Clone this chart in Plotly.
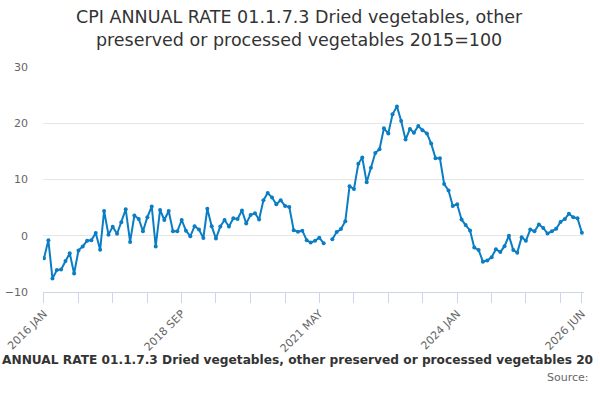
import pandas as pd
import plotly.graph_objects as go

# monthly annual rate, 2016 JAN .. 2026 JUN (2021 JUL missing)
months = pd.date_range("2016-01-01", periods=126, freq="MS")
rate = [
    -4.0, -0.8, -7.6, -6.1, -6.0, -4.5, -3.1, -6.7, -2.6, -1.9, -0.9, -0.8,
    0.5, -2.5, 4.4, 0.2, 1.6, 0.35, 2.4, 4.7, -1.1, 3.6, 3.0, 0.8,
    3.3, 5.2, -1.9, 4.6, 2.8, 4.4, 0.8, 0.8, 2.8, 0.9, -0.1, 1.7,
    1.1, -0.4, 4.8, 1.7, -0.5, 1.65, 2.8, 1.65, 3.1, 3.0, 4.5, 2.2,
    3.7, 4.0, 2.9, 6.3, 7.6, 6.8, 5.6, 6.3, 5.3, 5.1, 1.0, 0.7,
    0.9, -0.8, -1.2, -0.9, -0.35, -1.35, None, -0.6, 0.65, 1.2, 2.6, 8.8,
    8.3, 12.8, 13.9, 9.5, 12.1, 14.7, 15.4, 19.1, 18.2, 21.6, 23.0, 20.4,
    17.1, 19.0, 18.3, 19.5, 18.75, 18.2, 16.4, 13.8, 13.8, 9.2, 8.05, 5.3,
    5.6, 2.9, 1.9, 0.95, -2.1, -2.55, -4.6, -4.4, -3.8, -2.4, -2.9, -1.85,
    0.0, -2.55, -3.0, -0.25, -0.9, 1.1, 0.8, 2.0, 1.4, 0.4, 0.8, 1.25,
    2.45, 3.0, 3.9, 3.3, 3.1, 0.55,
]
tick_dates = ["2016-01-01", "2018-09-01", "2021-05-01", "2024-01-01", "2026-06-01"]
tick_labels = ["2016 JAN", "2018 SEP", "2021 MAY", "2024 JAN", "2026 JUN"]
y_ticks = [-10, 0, 10, 20, 30]

title = "CPI ANNUAL RATE 01.1.7.3 Dried vegetables, other<br>preserved or processed vegetables 2015=100"
legend_text = "ANNUAL RATE 01.1.7.3 Dried vegetables, other preserved or processed vegetables 20"

# minor ticks every 8 months, labelled ones every 32 plus the last month
minor = [months[i] for i in range(0, 126, 8)] + [months[-1]]
tickvals = []
ticktext = []
for d in minor:
    tickvals.append(d)
    s = d.strftime("%Y-%m-%d")
    ticktext.append(tick_labels[tick_dates.index(s)] if s in tick_dates else "")

fig = go.Figure()
fig.add_trace(
    go.Scatter(
        x=months,
        y=rate,
        mode="lines+markers",
        line=dict(color="#0a7dc4", width=2),
        marker=dict(color="#0a7dc4", size=4),
        connectgaps=False,
        showlegend=False,
    ))

fig.update_layout(
    width=600,
    height=400,
    paper_bgcolor="white",
    plot_bgcolor="white",
    font=dict(family="DejaVu Sans", color="#666666"),
    margin=dict(l=43, r=16, t=67, b=108),
)
fig.update_xaxes(
    range=[months[0] - pd.Timedelta(days=7), months[-1] + pd.Timedelta(days=15)],
    tickmode="array",
    tickvals=tickvals,
    ticktext=ticktext,
    tickangle=-45,
    ticks="outside",
    ticklen=10,
    tickcolor="#ccd6eb",
    showline=True,
    linecolor="#ccd6eb",
    showgrid=False,
    zeroline=False,
    automargin=False,
    tickfont=dict(size=11, color="#666666"),
)
fig.update_yaxes(
    range=[-10, 30],
    tickvals=y_ticks,
    showgrid=True,
    gridcolor="#e6e6e6",
    zeroline=False,
    ticks="",
    ticklabelstandoff=14,
    automargin=False,
    tickfont=dict(size=11, color="#666666"),
)
# title as annotation so it sits where the reference has it
fig.add_annotation(text=title, xref="paper", yref="paper", x=0.475, y=1.171,
                   xanchor="center", yanchor="middle", showarrow=False,
                   font=dict(size=17.5, color="#333333"))
fig.add_annotation(text=legend_text, xref="paper", yref="paper", x=0.471, y=-0.302,
                   xanchor="center", yanchor="middle", showarrow=False,
                   font=dict(size=12.2, color="#333333", family="DejaVu Sans", weight="bold"))
fig.add_annotation(text="Source:", xref="paper", yref="paper", x=1.013, y=-0.382,
                   xanchor="right", yanchor="middle", showarrow=False,
                   font=dict(size=11, color="#666666"))

fig.write_html("out.html", config={"displayModeBar": False},
               post_script="document.body.style.margin='0';")
